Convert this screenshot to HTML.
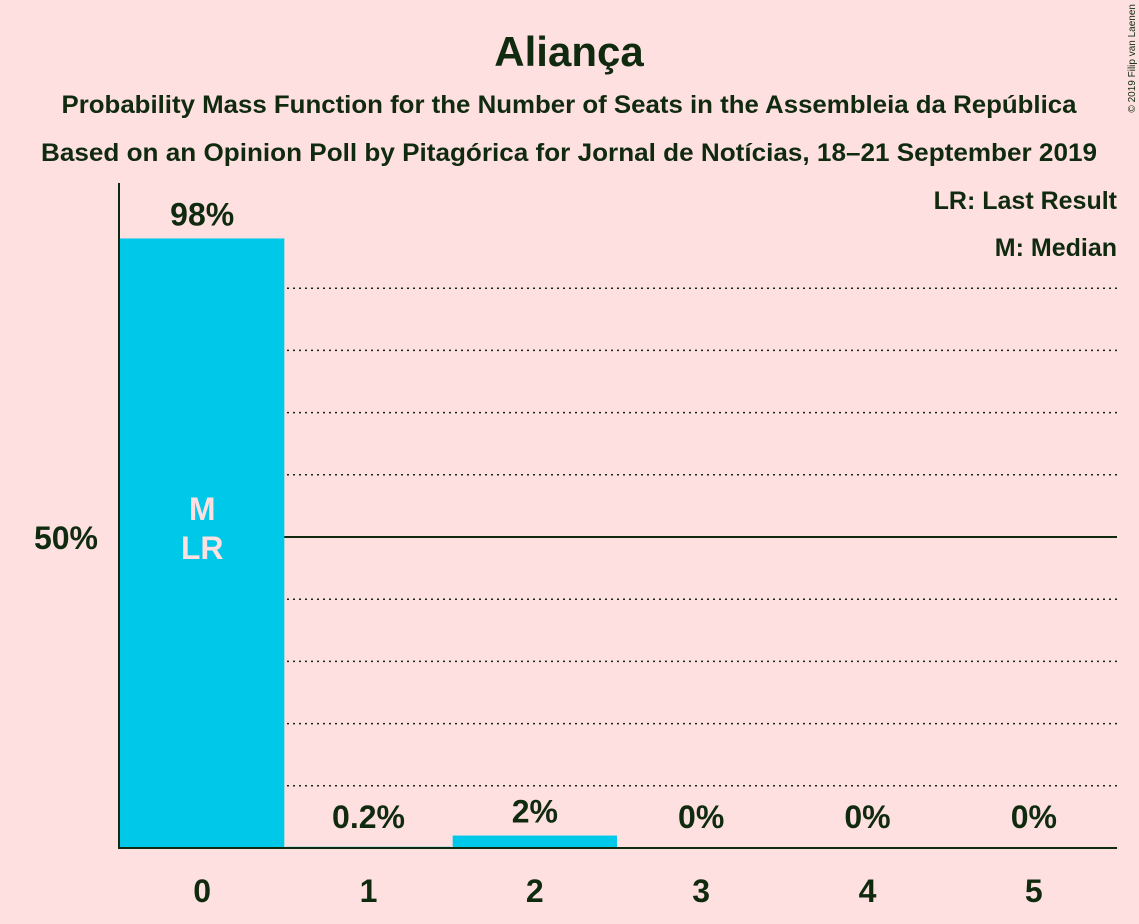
<!DOCTYPE html>
<html><head><meta charset="utf-8"><style>
body{margin:0;background:#FFE0E0;}
svg{display:block;font-family:"Liberation Sans",sans-serif;}
</style></head><body>
<svg id="chart" width="1139" height="924" viewBox="0 0 1139 924">
<rect width="1139" height="924" fill="#FFE0E0"/>
<text x="569" y="66" text-anchor="middle" font-size="42" font-weight="bold" fill="#0f2a0f">Aliança</text>
<text x="569" y="113" text-anchor="middle" font-size="25" font-weight="bold" fill="#0f2a0f" textLength="1015" lengthAdjust="spacingAndGlyphs">Probability Mass Function for the Number of Seats in the Assembleia da República</text>
<text x="569" y="161" text-anchor="middle" font-size="25" font-weight="bold" fill="#0f2a0f" textLength="1056" lengthAdjust="spacingAndGlyphs">Based on an Opinion Poll by Pitagórica for Jornal de Notícias, 18–21 September 2019</text>
<text x="1135" y="4" transform="rotate(-90 1135 4)" text-anchor="end" font-size="10" fill="#0f2a0f">© 2019 Filip van Laenen</text>
<text x="1117" y="209" text-anchor="end" font-size="25" font-weight="bold" fill="#0f2a0f">LR: Last Result</text>
<text x="1117" y="256" text-anchor="end" font-size="25" font-weight="bold" fill="#0f2a0f">M: Median</text>
<g id="grid"></g>
<g id="bars"></g>
<line x1="119" y1="183" x2="119" y2="849" stroke="#0f2a0f" stroke-width="2"/>
<line x1="118" y1="848" x2="1117" y2="848" stroke="#0f2a0f" stroke-width="2"/>
<text x="98" y="549" text-anchor="end" font-size="32" font-weight="bold" fill="#0f2a0f">50%</text>
</svg>
<script>
const categories=[0,1,2,3,4,5];
const values=[98,0.2,2,0,0,0];
const valueLabels=["98%","0.2%","2%","0%","0%","0%"];
const medianIndex=0;
const lastResultIndex=0;
const NS="http://www.w3.org/2000/svg";
const x0=119,x1=1117,yBase=848,y50=537;
const slot=(x1-x0)/categories.length;
function y(v){return yBase-(yBase-y50)*v/50;}
function xc(i){return x0+slot*(i+0.5);}
const grid=document.getElementById('grid');
for(let p=10;p<=90;p+=10){
 const l=document.createElementNS(NS,'line');
 l.setAttribute('x1',x0);l.setAttribute('x2',x1);
 l.setAttribute('y1',y(p));l.setAttribute('y2',y(p));
 l.setAttribute('stroke','#0f2a0f');
 if(p===50){l.setAttribute('stroke-width','2');}else{l.setAttribute('stroke-width','1.5');l.setAttribute('stroke-dasharray','2,4');}
 
 
 grid.appendChild(l);
}
const bars=document.getElementById('bars');
categories.forEach((c,i)=>{
 const v=values[i];
 if(v>0){
  const r=document.createElementNS(NS,'rect');
  r.setAttribute('x',x0+slot*i+1);r.setAttribute('width',slot-2);
  r.setAttribute('y',y(v));r.setAttribute('height',yBase-y(v));
  r.setAttribute('fill','#00C8E8');
  
  
  bars.appendChild(r);
 }
 const t=document.createElementNS(NS,'text');
 t.setAttribute('x',xc(i));t.setAttribute('y',Math.min(y(v),yBase-7)-13);
 t.setAttribute('text-anchor','middle');t.setAttribute('font-size','32');t.setAttribute('font-weight','bold');t.setAttribute('fill','#0f2a0f');
 t.textContent=valueLabels[i];
 
 
 bars.appendChild(t);
 const xl=document.createElementNS(NS,'text');
 xl.setAttribute('x',xc(i));xl.setAttribute('y',902);
 xl.setAttribute('text-anchor','middle');xl.setAttribute('font-size','32');xl.setAttribute('font-weight','bold');xl.setAttribute('fill','#0f2a0f');
 xl.textContent=c;
 
 
 bars.appendChild(xl);
});
[[medianIndex,'M',520,'median-marker'],[lastResultIndex,'LR',559,'last-result-marker']].forEach(m=>{
 const t=document.createElementNS(NS,'text');
 t.setAttribute('x',xc(m[0]));t.setAttribute('y',m[2]);
 t.setAttribute('text-anchor','middle');t.setAttribute('font-size','32');t.setAttribute('font-weight','bold');t.setAttribute('fill','#FFE0E0');
 t.textContent=m[1];
 
 
 bars.appendChild(t);
});
</script>
</body></html>
